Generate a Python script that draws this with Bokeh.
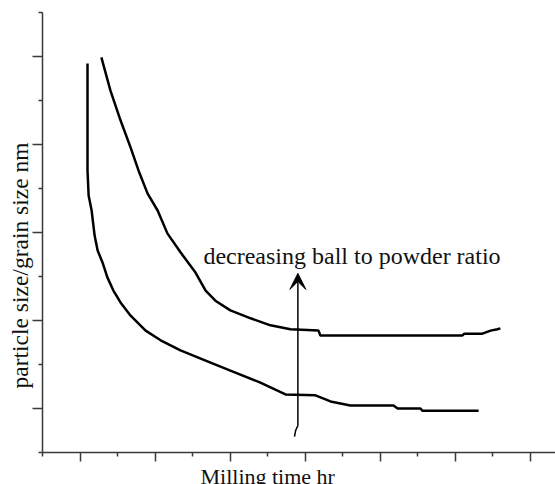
from bokeh.plotting import figure
from bokeh.models import (FixedTicker, Label, Arrow, VeeHead, Range1d, Title,
                          GlobalInlineStyleSheet)
from bokeh.embed import file_html
from bokeh.resources import INLINE

# ---- data (arbitrary units) ----
low_x = [1.20, 1.20, 1.23, 1.31, 1.39, 1.47, 1.60, 1.73, 1.89, 2.08, 2.35, 2.75, 3.15, 3.68,
         4.35, 5.01, 5.81, 6.48, 7.28, 7.68, 8.21, 9.36, 9.47, 10.08, 10.13, 11.63]
low_y = [8.84, 6.41, 5.84, 5.50, 4.93, 4.59, 4.32, 3.98, 3.68, 3.41, 3.11, 2.77, 2.55, 2.32,
         2.09, 1.86, 1.59, 1.32, 1.30, 1.16, 1.07, 1.07, 1.00, 1.00, 0.95, 0.95]

up_x = [1.57, 1.65, 1.81, 2.08, 2.35, 2.56, 2.80, 3.07, 3.33, 3.68, 4.08, 4.35, 4.61, 5.01,
        5.55, 6.08, 6.61, 7.36, 7.41, 9.01, 11.20, 11.25, 11.73, 11.95, 12.13, 12.21]
up_y = [8.98, 8.73, 8.23, 7.55, 6.93, 6.41, 5.89, 5.50, 4.98, 4.55, 4.09, 3.68, 3.45, 3.23,
        3.05, 2.89, 2.80, 2.77, 2.66, 2.66, 2.66, 2.70, 2.70, 2.77, 2.80, 2.82]

arrow_x = 6.81
arrow_y_start = 0.61
arrow_y_end = 4.07
hook_x = [6.81, 6.75, 6.72]
hook_y = [0.61, 0.50, 0.36]

x_major = [1, 3, 5, 7, 9, 11, 13]
x_minor = [0, 2, 4, 6, 8, 10, 12, 14]
y_major = [1, 3, 5, 7, 9]
y_minor = [0, 2, 4, 6, 8, 10]

x_label = "Milling time hr"
y_label = "particle size/grain size nm"
note = "decreasing ball to powder ratio"

FONT = "Liberation Serif"
INK = "#111111"
AXC = "#3a3a3a"

p = figure(width=555, height=512, output_backend="svg", toolbar_location=None,
           x_range=Range1d(0, 13.68), y_range=Range1d(0, 10),
           min_border_left=42, min_border_right=0, min_border_top=12, min_border_bottom=60)
p.outline_line_color = None
p.xgrid.visible = False
p.ygrid.visible = False
p.background_fill_color = "white"
p.border_fill_color = "white"

for ax, maj, mn in ((p.xaxis[0], x_major, x_minor), (p.yaxis[0], y_major, y_minor)):
    ax.ticker = FixedTicker(ticks=maj, minor_ticks=mn)
    ax.major_label_overrides = {t: "" for t in maj}
    ax.major_label_text_font_size = "1px"
    ax.major_label_standoff = 0
    ax.axis_line_color = AXC
    ax.axis_line_width = 1.5
    ax.major_tick_line_color = AXC
    ax.minor_tick_line_color = AXC
    ax.major_tick_line_width = 1.5
    ax.minor_tick_line_width = 1.5
    ax.major_tick_in = 0
    ax.minor_tick_in = 0
p.xaxis.major_tick_out = 9
p.xaxis.minor_tick_out = 4
p.yaxis.major_tick_out = 10
p.yaxis.minor_tick_out = 4

p.line(low_x, low_y, line_color="black", line_width=2.5)
p.line(up_x, up_y, line_color="black", line_width=2.5)

p.line(hook_x, hook_y, line_color="black", line_width=1.5)
p.add_layout(Arrow(x_start=arrow_x, y_start=arrow_y_start, x_end=arrow_x, y_end=arrow_y_end,
                   line_color="black", line_width=1.5,
                   end=VeeHead(size=16, fill_color="black", line_color="black")))

p.add_layout(Label(x=4.29, y=4.477, text=note, text_font=FONT, text_font_size="24px",
                   text_color=INK, text_baseline="alphabetic", text_align="left"))

p.add_layout(Title(text=x_label, align="left", offset=158, vertical_align="top", standoff=4,
                   text_font=FONT, text_font_size="22px", text_font_style="normal",
                   text_color=INK), "below")
p.add_layout(Title(text=y_label, align="left", offset=64, vertical_align="bottom", standoff=0,
                   text_font=FONT, text_font_size="23.5px", text_font_style="normal",
                   text_color=INK), "left")

p.stylesheets = [GlobalInlineStyleSheet(
    css="html, body { margin: 0; padding: 0; overflow: hidden; }")]

open("out.html", "w").write(file_html(p, INLINE))
